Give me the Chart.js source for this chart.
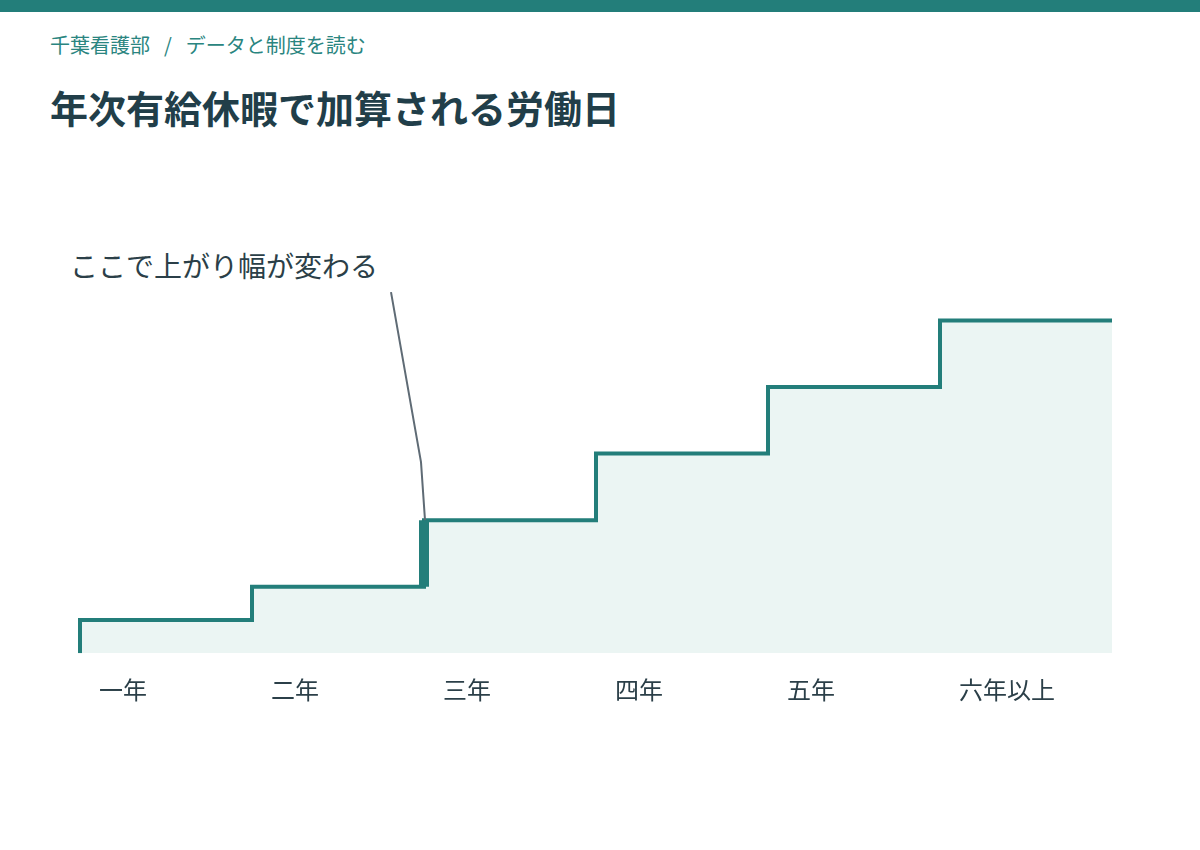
<!DOCTYPE html>
<html lang="ja">
<head>
<meta charset="utf-8">
<script src="https://cdn.jsdelivr.net/npm/chart.js@4/dist/chart.umd.min.js"></script>
<style>
  html, body { margin: 0; padding: 0; background: #ffffff; }
  body { width: 1200px; height: 850px; position: relative; overflow: hidden;
         font-family: "Noto Sans CJK JP", "Noto Sans", sans-serif; }
  .topbar { position: absolute; left: 0; top: 0; width: 1200px; height: 12px; background: #237e7a; }
  .crumb { position: absolute; left: 50px; top: 35px; font-size: 20px; line-height: 20px; color: #2a8580; white-space: nowrap; }
  .crumb .sep { margin: 0 14px; }
  .title { position: absolute; left: 50px; top: 88px; font-size: 38px; line-height: 38px; font-weight: 700; color: #213e49; white-space: nowrap; }
  .note { position: absolute; left: 70px; top: 248px; font-size: 28px; line-height: 34px; color: #2b3f48; white-space: nowrap; }
  #wrap { position: absolute; left: 0; top: 150px; width: 1200px; height: 700px; }
</style>
</head>
<body>
<div class="topbar"></div>
<div class="crumb">千葉看護部<span class="sep">/</span>データと制度を読む</div>
<div class="title">年次有給休暇で加算される労働日</div>
<div class="note">ここで上がり幅が変わる</div>
<div id="wrap"><canvas id="chart" width="1200" height="700"></canvas></div>
<script>
// categories (years of service) and added leave days per step
var categories = ["一年", "二年", "三年", "四年", "五年", "六年以上"];
var addedDays = [1, 2, 4, 6, 8, 10];

var TEAL = "#237e7a";
var FILL = "#ebf5f3";
var INK = "#2b3f48";

Chart.defaults.font.family = '"Noto Sans CJK JP", "Noto Sans", sans-serif';

// step line points: rise from zero at the start, hold the last value to the end
var stepPoints = [{ x: 0, y: 0 }];
for (var i = 0; i < addedDays.length; i++) {
  stepPoints.push({ x: i, y: addedDays[i] });
}
stepPoints.push({ x: categories.length, y: addedDays[addedDays.length - 1] });

// find where the size of the increase first changes
var changeAt = 1;
for (var k = 2; k < addedDays.length; k++) {
  if (addedDays[k] - addedDays[k - 1] !== addedDays[k - 1] - addedDays[k - 2]) {
    changeAt = k;
    break;
  }
}
var highlightPoints = [
  { x: changeAt, y: addedDays[changeAt - 1] },
  { x: changeAt, y: addedDays[changeAt] }
];

// leader line from the note down to the top of the highlighted step
var leaderLine = {
  id: "leaderLine",
  afterDatasetsDraw: function (chart) {
    var xs = chart.scales.x, ys = chart.scales.y;
    var px = xs.getPixelForValue(changeAt);
    var py = ys.getPixelForValue(addedDays[changeAt]);
    var ctx = chart.ctx;
    ctx.save();
    ctx.strokeStyle = "#5f6b75";
    ctx.lineWidth = 2;
    ctx.beginPath();
    ctx.moveTo(px - 33, py - 228);
    ctx.lineTo(px - 3, py - 58);
    ctx.lineTo(px + 1, py);
    ctx.stroke();
    ctx.restore();
  }
};

new Chart(document.getElementById("chart"), {
  type: "line",
  data: {
    datasets: [
      {
        data: highlightPoints,
        borderColor: TEAL,
        borderWidth: 10,
        borderCapStyle: "butt",
        pointRadius: 0,
        fill: false,
        clip: 6,
        order: 0
      },
      {
        data: stepPoints,
        stepped: "before",
        borderColor: TEAL,
        borderWidth: 4,
        borderJoinStyle: "miter",
        borderCapStyle: "butt",
        backgroundColor: FILL,
        fill: "origin",
        pointRadius: 0,
        clip: { left: 4, top: 4, right: 0, bottom: 0 },
        order: 1
      }
    ]
  },
  options: {
    responsive: false,
    animation: false,
    devicePixelRatio: 1,
    layout: { padding: { left: 80, right: 88, top: 104, bottom: 124 } },
    plugins: { legend: { display: false }, tooltip: { enabled: false } },
    scales: {
      x: {
        type: "linear",
        min: 0,
        max: categories.length,
        grid: { display: false, drawTicks: false },
        border: { display: false },
        afterBuildTicks: function (scale) {
          scale.ticks = categories.map(function (c, i) { return { value: i + 0.11 }; });
        },
        ticks: {
          autoSkip: false,
          maxRotation: 0,
          align: "start",
          padding: 22,
          color: INK,
          font: { size: 24 },
          callback: function (value, index) { return categories[index]; }
        }
      },
      y: {
        display: false,
        min: 0,
        max: 12
      }
    }
  },
  plugins: [leaderLine]
});
</script>
</body>
</html>
